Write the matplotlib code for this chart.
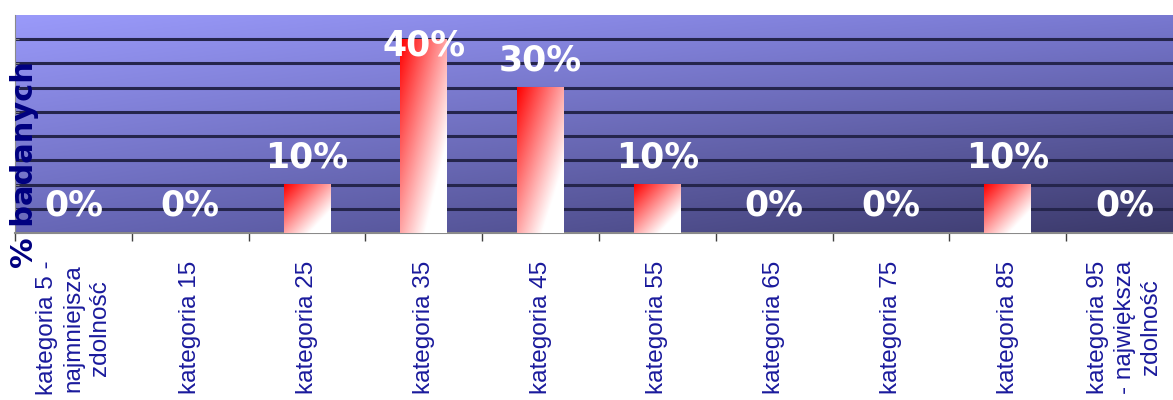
import numpy as np
import matplotlib
matplotlib.use("Agg")
from matplotlib import pyplot as plt
from matplotlib.ticker import FixedLocator, NullFormatter

kategorie = ['kategoria 5 -\nnajmniejsza\nzdolność', 'kategoria 15', 'kategoria 25',
             'kategoria 35', 'kategoria 45', 'kategoria 55', 'kategoria 65',
             'kategoria 75', 'kategoria 85', 'kategoria 95\n- największa\nzdolność']
udzial = [0.0, 0.0, 0.10, 0.40, 0.30, 0.10, 0.0, 0.0, 0.10, 0.0]
etykiety = ['0%', '0%', '10%', '40%', '30%', '10%', '0%', '0%', '10%', '0%']

ymax = 0.45

fig = plt.figure(figsize=(11.73, 4.0), dpi=100)
ax = fig.add_axes([15/1173, 167/400, 1168/1173, 218/400])

# tlo: gradient od jasnego fioletu (lewy gorny rog) do granatu (prawy dolny)
tl = np.array([154, 154, 250]) / 255
tr = np.array([120, 120, 208]) / 255
bl = np.array([104, 104, 184]) / 255
br = np.array([58, 56, 104]) / 255
u = np.linspace(0, 1, 300)[None, :, None]
v = np.linspace(1, 0, 100)[:, None, None]
tlo = (tl * (1 - u) * v + tr * u * v + bl * (1 - u) * (1 - v) + br * u * (1 - v))
ax.imshow(tlo, extent=[0, 1, 0, 1], transform=ax.transAxes, aspect='auto',
          zorder=0, interpolation='bilinear')

# slupki z gradientem czerwony -> bialy
szer = 0.4
bars = ax.bar(range(len(udzial)), udzial, width=szer, color='none', zorder=3)
gu = np.linspace(0, 1, 50)[None, :]
gv = np.linspace(1, 0, 200)[:, None]
t = np.clip((gu + (1 - gv)) / 2 * 1.3, 0, 1)[..., None]
grad = np.array([1.0, 0.0, 0.0]) * (1 - t) + np.array([1.0, 1.0, 1.0]) * t
for b in bars:
    h = b.get_height()
    if h <= 0:
        continue
    x0 = b.get_x()
    ax.imshow(grad, extent=[x0, x0 + szer, 0, h], aspect='auto',
              zorder=3, interpolation='bilinear')

# etykiety nad slupkami, przy gornej krawedzi dociagniete do srodka wykresu
odst = 0.056
for i, (val, txt) in enumerate(zip(udzial, etykiety)):
    y = min(val + odst, 0.388)
    ax.text(i, y, txt, ha='center', va='center', color='white', fontsize=25,
            fontweight='bold', zorder=5)

ax.set_xlim(-0.5, len(udzial) - 0.5)
ax.set_ylim(0, ymax)
ax.yaxis.set_major_locator(FixedLocator(np.arange(0, 0.401, 0.05)))
ax.yaxis.set_major_formatter(NullFormatter())
ax.grid(axis='y', color='#25254c', linewidth=2.2, zorder=1)
ax.set_axisbelow(True)
ax.tick_params(axis='y', length=3, color='#808080', direction='in')

ax.set_xticks(range(len(kategorie)))
ax.set_xticklabels(kategorie, rotation=90, ha='center', va='top',
                   multialignment='center', fontsize=17.5, color='#1a1a9c',
                   family='Liberation Sans', linespacing=1.25)
ax.tick_params(axis='x', which='major', length=0, pad=20)
ax.xaxis.set_minor_locator(FixedLocator(np.arange(-0.5, len(kategorie), 1.0)))
ax.tick_params(axis='x', which='minor', length=6, width=1, color='#404040')

for s in ['top', 'right']:
    ax.spines[s].set_visible(False)
ax.spines['left'].set_color('#8a8a8a')
ax.spines['bottom'].set_color('#8a8a8a')
ax.spines['bottom'].set_linewidth(1.5)

fig.text(25/1173, 1 - 165/400, '% badanych', rotation=90, ha='center', va='center',
         fontsize=22, fontweight='bold', color='#000080')

fig.savefig('out.png', dpi=100)
